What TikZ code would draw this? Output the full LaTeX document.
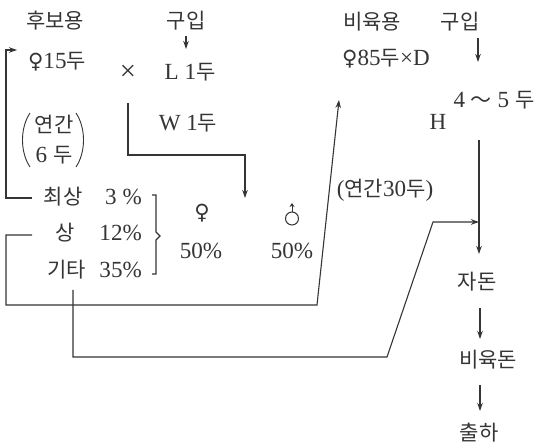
\documentclass[tikz,border=0pt]{standalone}
\usepackage{fontspec}
\setmainfont[Scale=1.1]{Liberation Serif}
\newfontfamily\kr{Noto Sans CJK KR}
\newfontfamily\sym{DejaVu Sans}
\usetikzlibrary{arrows.meta}
\definecolor{ink}{HTML}{353535}
\begin{document}
\begin{tikzpicture}[x=1pt,y=-1pt,
  font=\fontsize{21}{25}\selectfont,
  every node/.style={text=ink, inner sep=1pt},
  line/.style={draw=ink, line width=1.1pt, line join=miter},
  thin/.style={draw=ink, line width=0.9pt},
  arr/.style={line, -{Stealth[length=8pt,width=5.5pt]}}]
\useasboundingbox[fill=white] (0,0) rectangle (541,446);

% left column texts
\node (hb) at (55,21) {\kr 후보용};
\node (gu1) at (186,21) {\kr 구입};
\node (f15) at (57,62) {{\sym ♀}15{\kr 두}};
\node (tm) at (128,73) {{\fontsize{26}{26}\selectfont ×}};
\node (L1) at (190,72) {L 1{\kr 두}};
\node (W1) at (188,123) {W 1{\kr 두}};
\node[align=center, font=\fontsize{21}{30}\selectfont] (y6) at (54,140) {{\kr 연간}\\6 {\kr 두}};
\draw[thin] (30,113) .. controls (20,128) and (20,152) .. (30,167);
\draw[thin] (76,113) .. controls (86,128) and (86,152) .. (76,167);

\node (r1a) at (63,197) {\kr 최상};
\node[anchor=east] (r1b) at (143,197) {3 \%};
\node (r2a) at (65,233) {\kr 상};
\node[anchor=east] (r2b) at (143,233) {12\%};
\node (r3a) at (67,270) {\kr 기타};
\node[anchor=east] (r3b) at (143,270) {35\%};

\node (fa) at (202,213) {\sym ♀};
\node (pa) at (201,251) {50\%};
\node (ma) at (292,214) {\tikz[x=1pt,y=1pt]{\draw[draw=ink,line width=1pt] (0,0) circle[radius=6.5pt];
  \draw[draw=ink,line width=1pt,-{Stealth[length=4pt,width=5pt]}] (0,6.5) -- (0,15.5);}};
\node (pb) at (292,251) {50\%};

% right column texts
\node (by) at (372,22) {\kr 비육용};
\node (gu2) at (460,22) {\kr 구입};
\node (f85) at (386,59) {{\sym ♀}85{\kr 두}×D};
\node (H) at (438,122) {H};
\node (n45) at (494,100) {4 {\kr ～} 5 {\kr 두}};
\node (y30) at (385,190) {({\kr 연간}30{\kr 두})};
\node (jd) at (477,282) {\kr 자돈};
\node (byd) at (488,360) {\kr 비육돈};
\node (ch) at (479,433) {\kr 출하};

% brace
\draw[line] (152,195) -- (156,195) -- (156,232) -- (160,236) -- (156,240) -- (156,274) -- (152,274);

% coordinates
\coordinate (a1s) at (186,36);
\coordinate (a1e) at (186,49);
\coordinate (p1a) at (32,198);
\coordinate (p1b) at (6,198);
\coordinate (p1c) at (6,50);
\coordinate (p1d) at (17,50);
\coordinate (p2a) at (32,235);
\coordinate (p2b) at (6,235);
\coordinate (p2c) at (6,305);
\coordinate (p2d) at (317,305);
\coordinate (p2e) at (339,100);
\coordinate (p3a) at (73,290);
\coordinate (p3b) at (73,357);
\coordinate (p3c) at (387,357);
\coordinate (p3d) at (433,222);
\coordinate (p3e) at (479,222);
\coordinate (p4a) at (128,103);
\coordinate (p4b) at (128,155);
\coordinate (p4c) at (245,155);
\coordinate (p4d) at (245,198);
\coordinate (a2s) at (478,38);
\coordinate (a2e) at (478,62);
\coordinate (v1s) at (479,140);
\coordinate (v1e) at (479,254);
\coordinate (a3s) at (480,308);
\coordinate (a3e) at (480,339);
\coordinate (a4s) at (480,385);
\coordinate (a4e) at (480,411);

% connectors
\draw[arr] (a1s) -- (a1e);
\draw[arr] (p1a) -- (p1b) -- (p1c) -- (p1d);
\draw[arr] (p2a) -- (p2b) -- (p2c) -- (p2d) -- (p2e);
\draw[arr] (p3a) -- (p3b) -- (p3c) -- (p3d) -- (p3e);
\draw[arr] (p4a) -- (p4b) -- (p4c) -- (p4d);
\draw[arr] (a2s) -- (a2e);
\draw[arr] (v1s) -- (v1e);
\draw[arr] (a3s) -- (a3e);
\draw[arr] (a4s) -- (a4e);
\end{tikzpicture}
\end{document}
